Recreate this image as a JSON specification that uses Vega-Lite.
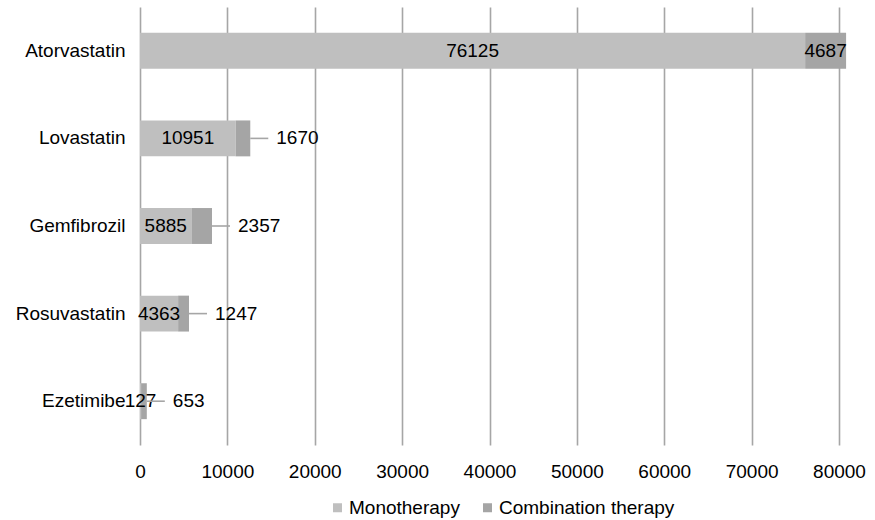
{
  "$schema": "https://vega.github.io/schema/vega-lite/v6.json",
  "width": 699,
  "height": 438,
  "autosize": "none",
  "padding": {"left": 140, "top": 7, "right": 36, "bottom": 75},
  "background": "white",
  "config": {
    "font": "Liberation Sans",
    "view": {"stroke": null},
    "axis": {"labelFont": "Liberation Sans", "labelFontSize": 19, "labelColor": "#000000"},
    "legend": {"labelFont": "Liberation Sans", "labelFontSize": 19, "labelColor": "#000000"}
  },
  "data": {
    "values": [
      {"drug": "Atorvastatin", "therapy": "Monotherapy", "value": 76125},
      {"drug": "Atorvastatin", "therapy": "Combination therapy", "value": 4687},
      {"drug": "Lovastatin", "therapy": "Monotherapy", "value": 10951},
      {"drug": "Lovastatin", "therapy": "Combination therapy", "value": 1670},
      {"drug": "Gemfibrozil", "therapy": "Monotherapy", "value": 5885},
      {"drug": "Gemfibrozil", "therapy": "Combination therapy", "value": 2357},
      {"drug": "Rosuvastatin", "therapy": "Monotherapy", "value": 4363},
      {"drug": "Rosuvastatin", "therapy": "Combination therapy", "value": 1247},
      {"drug": "Ezetimibe", "therapy": "Monotherapy", "value": 127},
      {"drug": "Ezetimibe", "therapy": "Combination therapy", "value": 653}
    ]
  },
  "transform": [
    {"stack": "value", "groupby": ["drug"], "sort": [{"field": "therapy", "order": "descending"}], "as": ["v0", "v1"]},
    {"calculate": "(datum.v0 + datum.v1) / 2", "as": "mid"}
  ],
  "encoding": {
    "y": {
      "field": "drug",
      "type": "nominal",
      "sort": ["Atorvastatin", "Lovastatin", "Gemfibrozil", "Rosuvastatin", "Ezetimibe"],
      "scale": {"paddingInner": 0.59, "paddingOuter": 0.295},
      "axis": {"title": null, "ticks": false, "domain": false, "labelPadding": 15, "grid": false}
    }
  },
  "layer": [
    {
      "mark": {"type": "bar"},
      "encoding": {
        "x": {
          "field": "v0",
          "type": "quantitative",
          "scale": {"domain": [0, 80000], "nice": false, "zero": true},
          "axis": {
            "title": null,
            "values": [0, 10000, 20000, 30000, 40000, 50000, 60000, 70000, 80000],
            "format": "d",
            "ticks": false,
            "domain": false,
            "grid": true,
            "gridColor": "#a6a6a6",
            "gridWidth": 1.6,
            "labelFlush": false,
            "labelPadding": 17
          }
        },
        "x2": {"field": "v1"},
        "color": {
          "field": "therapy",
          "type": "nominal",
          "sort": ["Monotherapy", "Combination therapy"],
          "scale": {"domain": ["Monotherapy", "Combination therapy"], "range": ["#bfbfbf", "#a5a5a5"]},
          "legend": {
            "title": null,
            "orient": "none",
            "direction": "horizontal",
            "legendX": 188,
            "legendY": 491,
            "symbolType": "square",
            "symbolSize": 81,
            "symbolStrokeWidth": 0,
            "labelOffset": 2,
            "labelLimit": 0,
            "columnPadding": 18,
            "padding": 0
          }
        }
      }
    },
    {
      "transform": [
        {"filter": "datum.therapy === 'Monotherapy' || datum.v1 > 50000"}
      ],
      "mark": {"type": "text", "fontSize": 19, "color": "#000000", "align": "center", "baseline": "middle"},
      "encoding": {
        "x": {"field": "mid", "type": "quantitative"},
        "text": {"field": "value", "type": "quantitative", "format": "d"}
      }
    },
    {
      "transform": [{"filter": "datum.therapy === 'Combination therapy' && datum.v1 <= 50000"}],
      "mark": {"type": "rule", "color": "#a6a6a6", "strokeWidth": 1.6, "x2Offset": 18},
      "encoding": {
        "x": {"field": "v1", "type": "quantitative"},
        "x2": {"field": "v1"}
      }
    },
    {
      "transform": [{"filter": "datum.therapy === 'Combination therapy' && datum.v1 <= 50000"}],
      "mark": {"type": "text", "fontSize": 19, "color": "#000000", "align": "left", "baseline": "middle", "dx": 26},
      "encoding": {
        "x": {"field": "v1", "type": "quantitative"},
        "text": {"field": "value", "type": "quantitative", "format": "d"}
      }
    }
  ]
}
